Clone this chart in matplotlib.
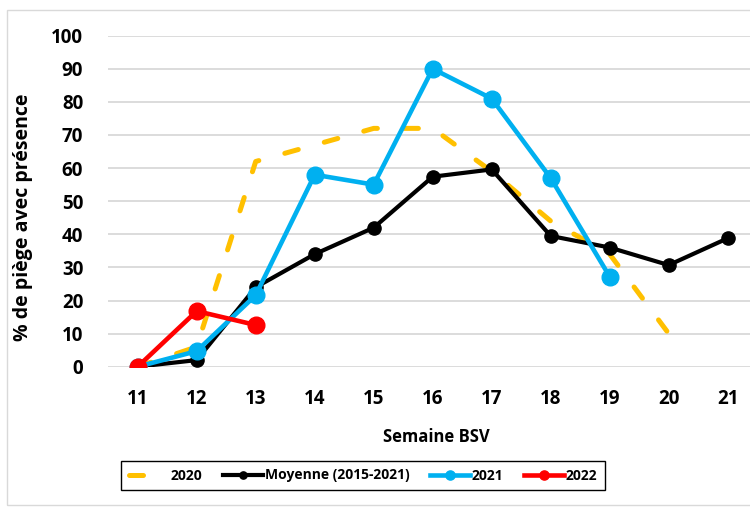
import numpy as np
import matplotlib
matplotlib.use("Agg")
import matplotlib.pyplot as plt
from matplotlib.patches import Rectangle

plt.rcParams['font.family'] = ['Open Sans', 'DejaVu Sans']

# data
weeks = [11, 12, 13, 14, 15, 16, 17, 18, 19, 20, 21]
y2020 = [0, 6, 62, 67, 72, 72, 59, 44, 34, 10]
moyenne = [0, 2, 24, 34, 42, 57.4, 59.6, 39.5, 36, 30.7, 38.8]
y2021 = [0, 4.7, 21.6, 58, 55, 90, 81, 57, 27.2]
y2022 = [0, 16.8, 12.6]

fig = plt.figure(figsize=(7.5, 5.07), dpi=100)
ax = fig.add_axes([108.2 / 750, 140.3 / 507, (750 - 108.2) / 750, 331 / 507])

ax.plot(weeks[:len(y2020)], y2020, color="#FFC000", lw=3.6, dashes=(2.8, 5.4),
        dash_capstyle="round", label="2020", zorder=2)
ax.plot(weeks, moyenne, color="black", lw=3, marker="o", ms=9.5,
        label="Moyenne (2015-2021)", zorder=3)
ax.plot(weeks[:len(y2021)], y2021, color="#00B0F0", lw=3.3, marker="o", ms=12,
        label="2021", zorder=4)
ax.plot(weeks[:len(y2022)], y2022, color="#FF0000", lw=3.3, marker="o", ms=12,
        label="2022", zorder=5)

ax.set_xlim(10.5, 10.5 + (750 - 108.2) / 59)
ax.set_ylim(0, 100)
ax.set_xticks(weeks)
ax.set_yticks(np.arange(0, 101, 10))
ax.grid(axis="y", color="#D9D9D9", lw=1.3, zorder=0)
ax.set_axisbelow(True)
for s in ax.spines.values():
    s.set_visible(False)
ax.tick_params(axis="x", length=0, labelsize=13.5, pad=16)
ax.tick_params(axis="y", length=0, labelsize=13.5, pad=18)
for lab in ax.get_xticklabels() + ax.get_yticklabels():
    lab.set_fontweight("bold")

ax.set_xlabel("Semaine BSV", fontsize=12, fontweight="bold")
ax.xaxis.set_label_coords((436 - 108.2) / (750 - 108.2), -(428 - 366.7) / 331)
ax.set_ylabel("% de piège avec présence", fontsize=14, fontweight="bold")
ax.yaxis.set_label_coords(-(108.2 - 33) / (750 - 108.2), (366.7 - 217) / 331)

fig.legend(loc="center", bbox_to_anchor=(363 / 750, 1 - 475.5 / 507), ncol=4,
           prop={"weight": "bold", "size": 10}, markerscale=0.55,
           fancybox=False, edgecolor="black", framealpha=1,
           handlelength=2.9, handletextpad=0.1, columnspacing=1.5,
           borderpad=0.55)
fig.legends[0].get_frame().set_linewidth(1)

fig.patches.append(Rectangle((7 / 750, 2 / 507), 1, 1 - 12 / 507,
                             transform=fig.transFigure, fill=False,
                             edgecolor="#D9D9D9", lw=1))

fig.savefig("out.png", dpi=100)
